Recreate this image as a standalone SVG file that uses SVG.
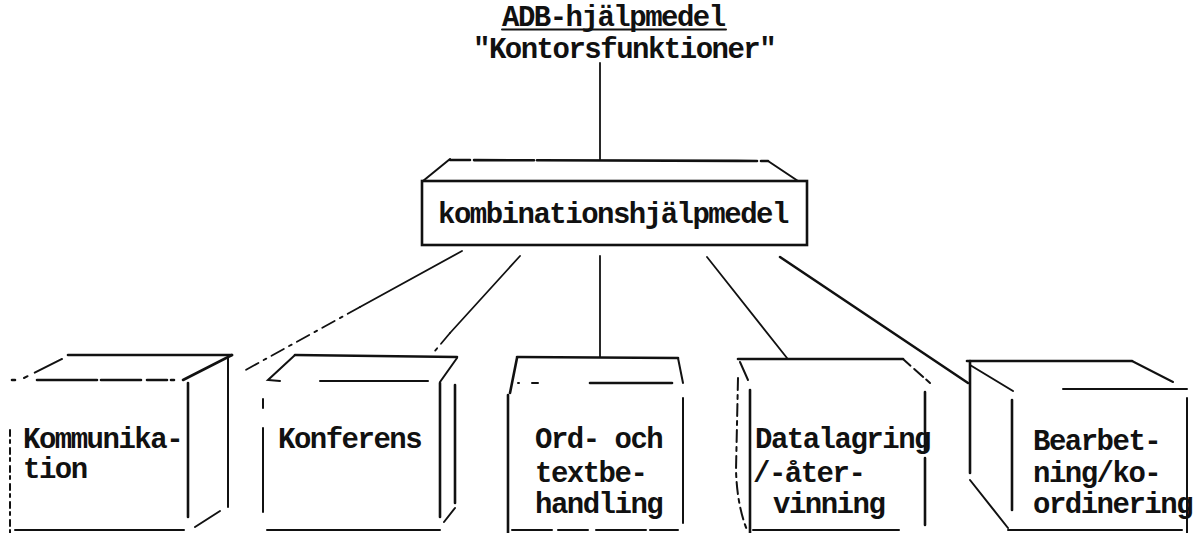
<svg xmlns="http://www.w3.org/2000/svg" width="1203" height="533" viewBox="0 0 1203 533">
  <style>
    .t { font-family: "Liberation Mono", "DejaVu Sans Mono", monospace; font-size: 29px; letter-spacing: -1.5px; font-weight: bold; fill: #111; }
    .e { stroke: #111; stroke-width: 2.6; fill: none; stroke-linecap: round; }
    .m { stroke: #111; stroke-width: 2; fill: none; stroke-linecap: round; }
    .c { stroke: #111; stroke-width: 1.8; fill: none; stroke-linecap: round; }
    .d { stroke-dasharray: 14 6 3 6; }
  </style>
  <rect width="1203" height="533" fill="#fff"/>

  <!-- heading -->
  <g id="title">
    <text class="t" x="502" y="26">ADB-hjälpmedel</text>
    <line class="m" x1="502" y1="29.5" x2="726" y2="29.5"/>
    <text class="t" x="473" y="58">"Kontorsfunktioner"</text>
  </g>

  <!-- connectors -->
  <g id="connectors">
    <line class="c" x1="600" y1="63" x2="600" y2="160"/>
    <line class="c" x1="462" y1="251" x2="360" y2="307"/>
    <line class="c d" x1="360" y1="307" x2="242" y2="372"/>
    <line class="c" x1="520" y1="256" x2="450" y2="333"/>
    <line class="c d" x1="450" y1="333" x2="434" y2="352"/>
    <line class="c" x1="600" y1="256" x2="600" y2="357"/>
    <line class="c" x1="707" y1="257" x2="787" y2="358"/>
    <line class="e" x1="780" y1="257" x2="968" y2="383"/>
  </g>

  <!-- combined tool box -->
  <g id="kombination">
    <line class="e" x1="450" y1="160" x2="768" y2="161" stroke-dasharray="20 4 60 3 200 0"/>
    <line class="m" x1="423" y1="181" x2="450" y2="159"/>
    <line class="m" x1="768" y1="161" x2="798" y2="181"/>
    <rect class="e" x="422" y="181" width="385" height="64"/>
    <text class="t" x="438" y="223">kombinationshjälpmedel</text>
  </g>

  <g id="kommunikation">
    <line class="e" x1="68" y1="355" x2="232" y2="355"/>
    <line class="m" x1="24" y1="378" x2="62" y2="359" stroke-dasharray="4 8 30 0"/>
    <line class="e" x1="12" y1="380" x2="183" y2="380" stroke-dasharray="3 22 60 4 40 6 20 4"/>
    <line class="e" x1="183" y1="380" x2="232" y2="355"/>
    <line class="e" x1="188" y1="383" x2="188" y2="517"/>
    <line class="m" x1="228" y1="357" x2="228" y2="507"/>
    <line class="m" x1="195" y1="527" x2="220" y2="511"/>
    <line class="m" x1="10" y1="430" x2="10" y2="533" stroke-dasharray="6 4 3 5"/>
    <line class="m" x1="15" y1="530" x2="184" y2="530"/>
    <text class="t" x="23" y="448">Kommunika-</text>
    <text class="t" x="23" y="478">tion</text>
  </g>

  <g id="konferens">
    <line class="e" x1="295" y1="355" x2="457" y2="357"/>
    <polyline class="m" points="295,355 268,380 280,381"/>
    <line class="m" x1="320" y1="381" x2="428" y2="381"/>
    <line class="m" x1="457" y1="358" x2="440" y2="382"/>
    <line class="e" x1="440" y1="383" x2="440" y2="517"/>
    <line class="e" x1="455" y1="385" x2="455" y2="503"/>
    <line class="m" x1="444" y1="522" x2="455" y2="508"/>
    <line class="m" x1="263" y1="399" x2="263" y2="408"/>
    <line class="m" x1="263" y1="428" x2="263" y2="512"/>
    <line class="m" x1="267" y1="530" x2="440" y2="530"/>
    <text class="t" x="278" y="448">Konferens</text>
  </g>

  <g id="ordtext">
    <line class="e" x1="517" y1="357" x2="678" y2="358"/>
    <line class="e" x1="517" y1="358" x2="510" y2="393"/>
    <line class="m" x1="678" y1="358" x2="683" y2="383"/>
    <line class="e" x1="590" y1="383" x2="672" y2="383"/>
    <line class="m" x1="518" y1="383" x2="519" y2="383"/>
    <line class="m" x1="532" y1="383" x2="538" y2="383"/>
    <line class="e" x1="508" y1="395" x2="508" y2="533"/>
    <line class="m" x1="683" y1="398" x2="683" y2="523"/>
    <line class="m" x1="512" y1="530" x2="678" y2="530" stroke-dasharray="40 6 30 8 50 4"/>
    <text class="t" x="535" y="448">Ord- och</text>
    <text class="t" x="535" y="482">textbe-</text>
    <text class="t" x="535" y="513">handling</text>
  </g>

  <g id="datalagring">
    <line class="e" x1="738" y1="359" x2="903" y2="359"/>
    <line class="m" x1="903" y1="359" x2="930" y2="383" stroke-dasharray="10 5 12 4"/>
    <line class="m" x1="740" y1="362" x2="748" y2="380"/>
    <line class="e" x1="750" y1="390" x2="750" y2="533"/>
    <path class="m" d="M738,378 L736,470 Q737,505 747,530" stroke-dasharray="12 5 4 5"/>
    <line class="e" x1="925" y1="392" x2="925" y2="525" stroke-dasharray="60 6 70 0"/>
    <line class="m" x1="753" y1="530" x2="899" y2="530"/>
    <text class="t" x="755" y="448">Datalagring</text>
    <text class="t" x="753" y="482">/-åter-</text>
    <text class="t" x="773" y="513">vinning</text>
  </g>

  <g id="bearbetning">
    <line class="e" x1="967" y1="361" x2="1132" y2="361"/>
    <line class="e" x1="970" y1="361" x2="970" y2="473"/>
    <line class="m" x1="970" y1="365" x2="1013" y2="391"/>
    <line class="m" x1="1132" y1="361" x2="1173" y2="382"/>
    <line class="m" x1="1063" y1="389" x2="1187" y2="389"/>
    <line class="e" x1="1012" y1="400" x2="1012" y2="510"/>
    <line class="m" x1="1187" y1="398" x2="1187" y2="533"/>
    <line class="m" x1="970" y1="480" x2="1008" y2="528"/>
    <line class="m" x1="1008" y1="530" x2="1182" y2="530"/>
    <text class="t" x="1033" y="450">Bearbet-</text>
    <text class="t" x="1033" y="482">ning/ko-</text>
    <text class="t" x="1033" y="513">ordinering</text>
  </g>
</svg>
